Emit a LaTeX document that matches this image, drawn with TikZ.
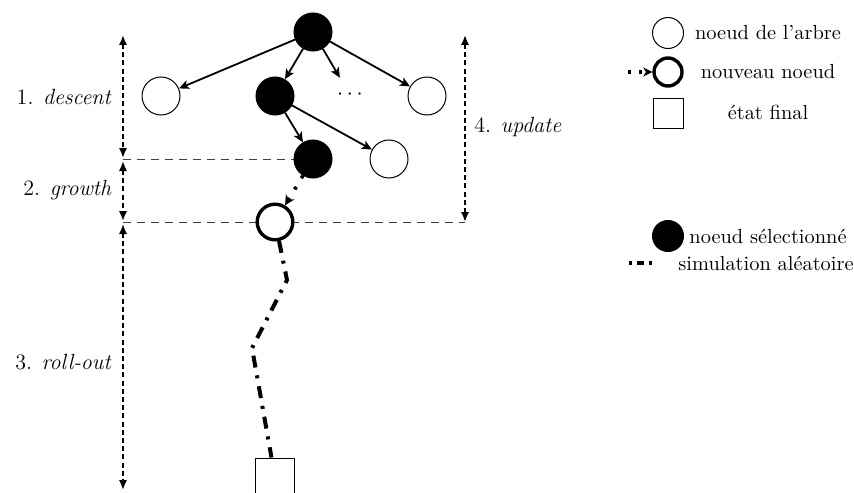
\documentclass[tikz,border=0pt]{standalone}
\usetikzlibrary{arrows.meta,calc}
\begin{document}
\begin{tikzpicture}[x=0.5pt,y=-0.5pt, font=\fontsize{11}{13}\selectfont,
 tnode/.style={circle,draw,line width=0.5pt,minimum size=19pt,inner sep=0pt,fill=white},
 snode/.style={circle,fill=black,draw,line width=0.5pt,minimum size=19pt,inner sep=0pt},
 nnode/.style={circle,draw,line width=1.7pt,minimum size=17.8pt,inner sep=0pt,fill=white},
 fnode/.style={rectangle,draw,line width=0.5pt,minimum size=19.5pt,inner sep=0pt,fill=white},
 tarr/.style={-{Stealth[length=5pt,width=4.5pt,inset=1.2pt]},line width=0.9pt},
 varr/.style={{Latex[length=5pt,width=4.2pt]}-{Latex[length=5pt,width=4.2pt]},line width=1.4pt,dash pattern=on 2.5pt off 1.6pt},
 hline/.style={line width=0.4pt,dash pattern=on 4pt off 3pt,black!75},
 roll/.style={line width=2pt,dash pattern=on 6pt off 4pt on 1.5pt off 4pt},
 lab/.style={inner sep=0pt},
 leg/.style={inner sep=0pt,font=\fontsize{10.2}{12}\selectfont},
]
\useasboundingbox (0,0) rectangle (854,492);

% coordinates for dimension arrows
\coordinate (l0) at (123,35);
\coordinate (l1a) at (123,158);
\coordinate (l1b) at (123,161);
\coordinate (l2a) at (123,221);
\coordinate (l2b) at (123,224);
\coordinate (l3) at (123,490);
\coordinate (r0) at (465,35);
\coordinate (r1) at (465,222);
\coordinate (h1) at (123,159);
\coordinate (h2) at (123,222);

% dashed horizontal guide lines
\draw[hline] (h1) -- (313,159);
\draw[hline] (h2) -- (r1);

% tree nodes
\node[snode] (root) at (313,32) {};
\node[tnode] (w1) at (161,96) {};
\node[snode] (b2) at (275,96) {};
\node[inner sep=6pt] (dots) at (350,95) {$\cdots$};
\node[tnode] (w2) at (427,96) {};
\node[snode] (b3) at (313,159) {};
\node[tnode] (w3) at (389,159) {};
\node[nnode] (new) at (275,222) {};
\node[fnode] (fin) at (275,477.5) {};

% tree edges
\draw[tarr] (root) -- (w1);
\draw[tarr] (root) -- (b2);
\draw[tarr] (root) -- (dots);
\draw[tarr] (root) -- (w2);
\draw[tarr] (b2) -- (b3);
\draw[tarr] (b2) -- (w3);

% growth arrow
\draw[roll,line width=1.8pt,dash pattern=on 1.5pt off 5pt,-{Stealth[length=5pt,width=5pt,inset=1.5pt]}] (b3) -- (new);

% roll-out
\coordinate (p1) at (287,280);
\coordinate (p2) at (252,348);
\draw[roll] (new.-78) -- (p1) -- (p2) -- (fin.100);

% dimension arrows
\draw[varr] (l0) -- (l1a);
\draw[varr] (l1b) -- (l2a);
\draw[varr] (l2b) -- (l3);
\draw[varr] (r0) -- (r1);

% labels
\node[lab,anchor=east] (t1) at (112,97) {1. \textit{descent}};
\node[lab,anchor=east] (t2) at (112,190) {2. \textit{growth}};
\node[lab,anchor=east] (t3) at (112,362) {3. \textit{roll-out}};
\node[lab,anchor=west] (t4) at (474,127) {4. \textit{update}};

% legend
\node[tnode,minimum size=15.5pt] (lg1) at (668,33) {};
\node[leg] (lt1) at (768,33) {noeud de l'arbre};
\node[nnode,minimum size=14pt] (lg2) at (668,72) {};
\coordinate (lg2a) at (628,72);
\draw[line width=1.6pt,dash pattern=on 1.5pt off 4pt,-{Stealth[length=4.5pt,width=4.5pt,inset=1.3pt]}] (lg2a) -- (lg2);
\node[leg] (lt2) at (768,72) {nouveau noeud};
\node[fnode,minimum size=15pt] (lg3) at (668,113) {};
\node[leg] (lt3) at (768,112) {état final};
\node[snode,minimum size=15.5pt] (lg4) at (668,236) {};
\node[leg] (lt4) at (768,236) {noeud sélectionné};
\coordinate (lg5a) at (629,263);
\coordinate (lg5b) at (652,263);
\draw[line width=2pt,dash pattern=on 1.5pt off 2.5pt on 3.5pt off 2.5pt] (lg5a) -- (lg5b);
\node[leg] (lt5) at (766,263) {simulation aléatoire};
\end{tikzpicture}
\end{document}
